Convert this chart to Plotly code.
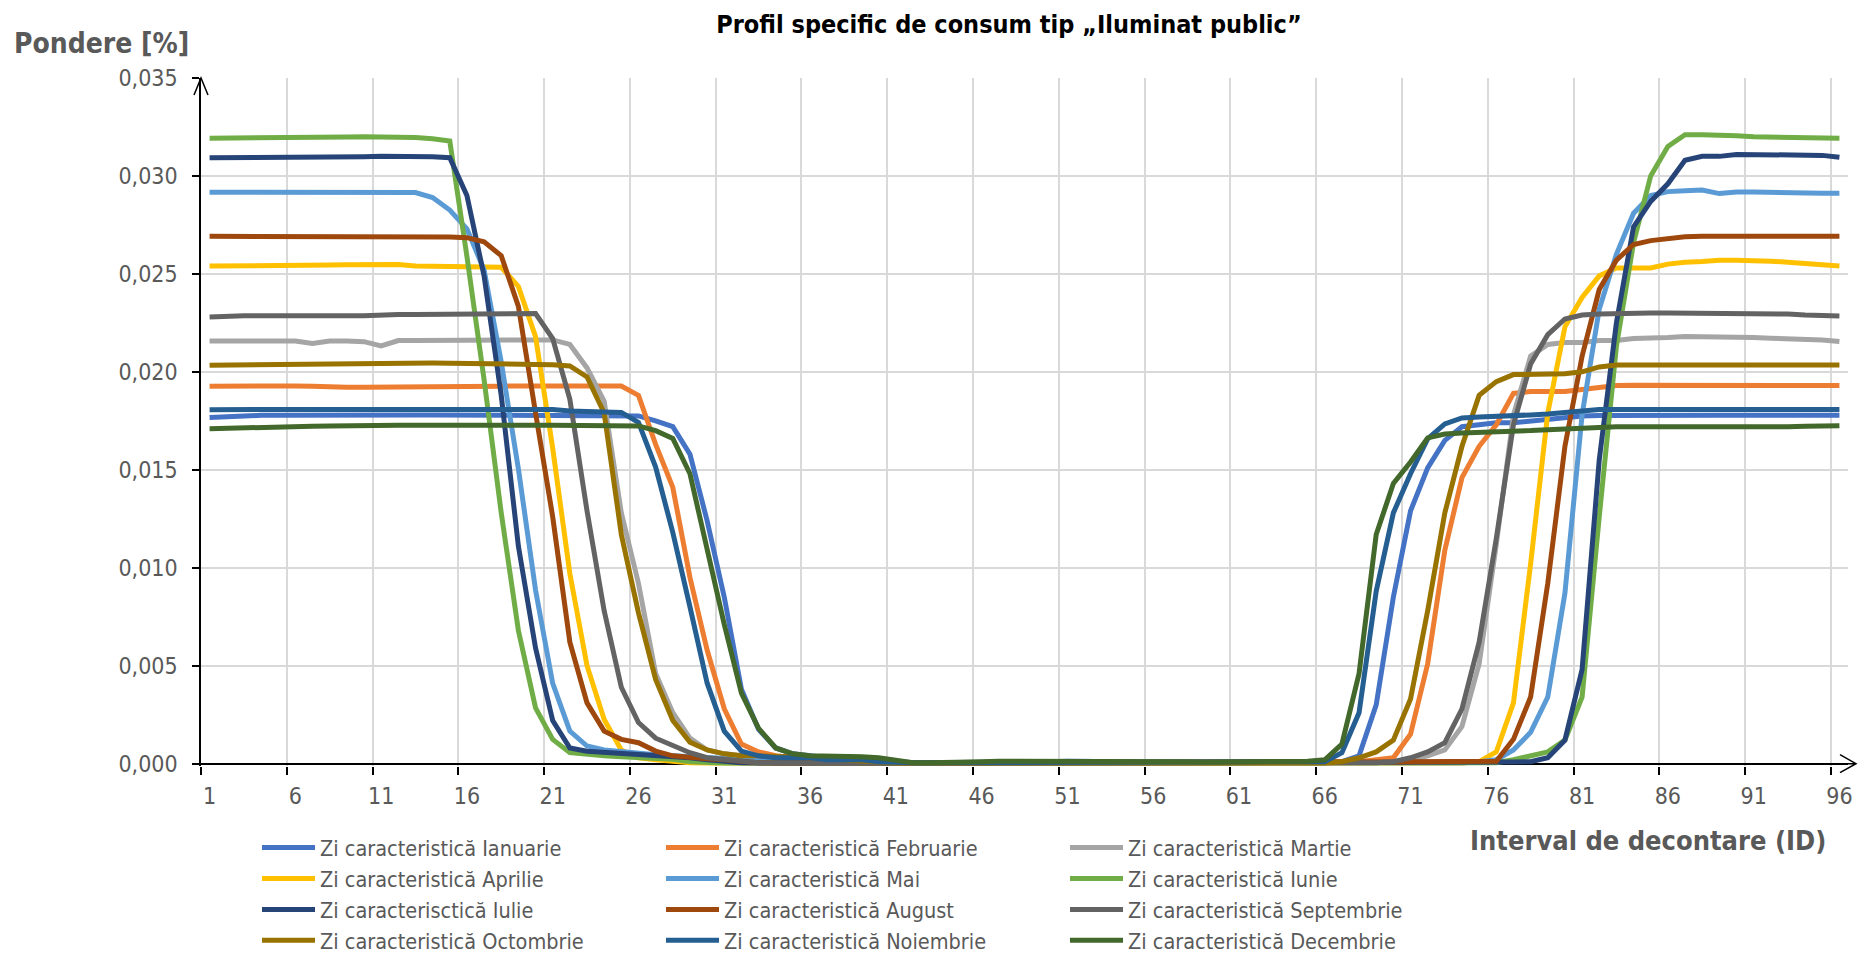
import plotly.graph_objects as go

# ---------------- data ----------------
intervale = list(range(1, 97))
x_tick_vals = [1, 6, 11, 16, 21, 26, 31, 36, 41, 46, 51, 56, 61, 66, 71, 76, 81, 86, 91, 96]
x_tick_labels = ["1", "6", "11", "16", "21", "26", "31", "36", "41", "46", "51", "56", "61", "66", "71", "76", "81", "86", "91", "96"]
y_tick_vals = [0.0, 0.005, 0.010, 0.015, 0.020, 0.025, 0.030, 0.035]

ianuarie = [
    0.01767, 0.01772, 0.01775, 0.01778, 0.01778, 0.01779, 0.01779, 0.01779, 0.01779, 0.01779,
    0.01779, 0.01779, 0.01780, 0.01780, 0.01780, 0.01780, 0.01780, 0.01780, 0.01780, 0.01779,
    0.01779, 0.01778, 0.01778, 0.01778, 0.01778, 0.01775, 0.01750, 0.01720, 0.01580, 0.01240,
    0.00850, 0.00380, 0.00175, 0.00080, 0.00050, 0.00040, 0.00030, 0.00030, 0.00020, 0.00020,
    0.00010, 0.00005, 0.00005, 0.00005, 0.00005, 0.00008, 0.00008, 0.00010, 0.00010, 0.00010,
    0.00012, 0.00010, 0.00010, 0.00010, 0.00010, 0.00008, 0.00008, 0.00008, 0.00008, 0.00008,
    0.00008, 0.00008, 0.00008, 0.00008, 0.00005, 0.00005, 0.00010, 0.00040, 0.00300, 0.00850,
    0.01290, 0.01510, 0.01650, 0.01720, 0.01730, 0.01740, 0.01740, 0.01750, 0.01760, 0.01770,
    0.01775, 0.01777, 0.01778, 0.01778, 0.01778, 0.01778, 0.01778, 0.01778, 0.01778, 0.01778,
    0.01778, 0.01778, 0.01778, 0.01778, 0.01778, 0.01778,
]
februarie = [
    0.01927, 0.01928, 0.01928, 0.01928, 0.01928, 0.01928, 0.01926, 0.01922, 0.01921, 0.01921,
    0.01921, 0.01921, 0.01921, 0.01921, 0.01922, 0.01924, 0.01925, 0.01927, 0.01928, 0.01928,
    0.01928, 0.01928, 0.01926, 0.01929, 0.01928, 0.01880, 0.01630, 0.01410, 0.00950, 0.00580,
    0.00280, 0.00100, 0.00060, 0.00040, 0.00030, 0.00030, 0.00020, 0.00010, 0.00005, 0.00005,
    0.00005, 0.00005, 0.00005, 0.00005, 0.00005, 0.00005, 0.00005, 0.00008, 0.00008, 0.00008,
    0.00010, 0.00008, 0.00008, 0.00008, 0.00008, 0.00008, 0.00005, 0.00005, 0.00005, 0.00005,
    0.00005, 0.00005, 0.00005, 0.00005, 0.00005, 0.00005, 0.00005, 0.00010, 0.00020, 0.00030,
    0.00150, 0.00510, 0.01090, 0.01460, 0.01620, 0.01730, 0.01890, 0.01900, 0.01900, 0.01900,
    0.01910, 0.01920, 0.01930, 0.01932, 0.01932, 0.01932, 0.01930, 0.01930, 0.01930, 0.01930,
    0.01930, 0.01930, 0.01930, 0.01930, 0.01930, 0.01930,
]
martie = [
    0.02158, 0.02158, 0.02158, 0.02158, 0.02158, 0.02157, 0.02145, 0.02157, 0.02157, 0.02154,
    0.02132, 0.02160, 0.02160, 0.02160, 0.02158, 0.02158, 0.02158, 0.02157, 0.02160, 0.02163,
    0.02163, 0.02140, 0.02020, 0.01850, 0.01280, 0.00920, 0.00460, 0.00260, 0.00130, 0.00070,
    0.00050, 0.00040, 0.00030, 0.00020, 0.00010, 0.00010, 0.00005, 0.00005, 0.00005, 0.00005,
    0.00005, 0.00003, 0.00003, 0.00003, 0.00003, 0.00003, 0.00003, 0.00003, 0.00003, 0.00003,
    0.00003, 0.00003, 0.00003, 0.00003, 0.00003, 0.00003, 0.00003, 0.00003, 0.00003, 0.00003,
    0.00003, 0.00003, 0.00003, 0.00003, 0.00003, 0.00003, 0.00003, 0.00003, 0.00005, 0.00010,
    0.00020, 0.00040, 0.00070, 0.00190, 0.00510, 0.01120, 0.01780, 0.02080, 0.02140, 0.02150,
    0.02150, 0.02160, 0.02160, 0.02170, 0.02170, 0.02175, 0.02180, 0.02180, 0.02178, 0.02180,
    0.02175, 0.02172, 0.02170, 0.02168, 0.02162, 0.02155,
]
aprilie = [
    0.02540, 0.02540, 0.02540, 0.02543, 0.02545, 0.02545, 0.02545, 0.02545, 0.02547, 0.02548,
    0.02550, 0.02548, 0.02540, 0.02540, 0.02540, 0.02538, 0.02536, 0.02534, 0.02436, 0.02180,
    0.01610, 0.00970, 0.00500, 0.00225, 0.00070, 0.00030, 0.00020, 0.00010, 0.00005, 0.00003,
    0.00003, 0.00003, 0.00003, 0.00003, 0.00003, 0.00003, 0.00003, 0.00003, 0.00003, 0.00003,
    0.00003, 0.00003, 0.00003, 0.00003, 0.00003, 0.00003, 0.00003, 0.00003, 0.00003, 0.00003,
    0.00003, 0.00003, 0.00003, 0.00003, 0.00003, 0.00003, 0.00003, 0.00003, 0.00003, 0.00003,
    0.00003, 0.00003, 0.00003, 0.00003, 0.00003, 0.00003, 0.00003, 0.00003, 0.00003, 0.00003,
    0.00003, 0.00003, 0.00003, 0.00003, 0.00010, 0.00060, 0.00310, 0.01020, 0.01790, 0.02230,
    0.02380, 0.02490, 0.02530, 0.02530, 0.02530, 0.02550, 0.02560, 0.02563, 0.02570, 0.02570,
    0.02570, 0.02565, 0.02560, 0.02555, 0.02550, 0.02540,
]
mai = [
    0.02917, 0.02917, 0.02917, 0.02918, 0.02920, 0.02920, 0.02920, 0.02920, 0.02920, 0.02919,
    0.02917, 0.02915, 0.02915, 0.02890, 0.02826, 0.02730, 0.02520, 0.02050, 0.01505, 0.00886,
    0.00410, 0.00166, 0.00090, 0.00070, 0.00060, 0.00050, 0.00045, 0.00040, 0.00035, 0.00030,
    0.00025, 0.00020, 0.00015, 0.00010, 0.00005, 0.00003, 0.00003, 0.00003, 0.00003, 0.00003,
    0.00003, 0.00003, 0.00003, 0.00003, 0.00003, 0.00003, 0.00003, 0.00003, 0.00003, 0.00003,
    0.00003, 0.00003, 0.00003, 0.00003, 0.00003, 0.00003, 0.00003, 0.00003, 0.00003, 0.00003,
    0.00003, 0.00003, 0.00003, 0.00003, 0.00003, 0.00003, 0.00003, 0.00003, 0.00003, 0.00003,
    0.00003, 0.00003, 0.00003, 0.00005, 0.00010, 0.00020, 0.00070, 0.00160, 0.00340, 0.00870,
    0.01780, 0.02320, 0.02600, 0.02810, 0.02900, 0.02920, 0.02925, 0.02928, 0.02910, 0.02918,
    0.02918, 0.02915, 0.02915, 0.02912, 0.02912, 0.02912,
]
iunie = [
    0.03193, 0.03193, 0.03194, 0.03196, 0.03198, 0.03198, 0.03198, 0.03199, 0.03199, 0.03200,
    0.03200, 0.03198, 0.03196, 0.03190, 0.03178, 0.02590, 0.01960, 0.01280, 0.00680, 0.00285,
    0.00124, 0.00056, 0.00045, 0.00040, 0.00035, 0.00030, 0.00028, 0.00022, 0.00010, 0.00005,
    0.00003, 0.00003, 0.00003, 0.00003, 0.00003, 0.00003, 0.00003, 0.00003, 0.00003, 0.00003,
    0.00003, 0.00003, 0.00003, 0.00003, 0.00003, 0.00003, 0.00003, 0.00003, 0.00003, 0.00003,
    0.00003, 0.00003, 0.00003, 0.00003, 0.00003, 0.00003, 0.00003, 0.00003, 0.00003, 0.00003,
    0.00003, 0.00003, 0.00003, 0.00003, 0.00003, 0.00003, 0.00003, 0.00003, 0.00003, 0.00003,
    0.00003, 0.00003, 0.00003, 0.00003, 0.00003, 0.00005, 0.00020, 0.00040, 0.00060, 0.00120,
    0.00340, 0.01260, 0.02130, 0.02660, 0.03000, 0.03150, 0.03210, 0.03210, 0.03210, 0.03205,
    0.03200, 0.03198, 0.03198, 0.03198, 0.03195, 0.03193,
]
iulie = [
    0.03093, 0.03093, 0.03093, 0.03093, 0.03093, 0.03093, 0.03093, 0.03093, 0.03096, 0.03098,
    0.03100, 0.03100, 0.03100, 0.03098, 0.03093, 0.02900, 0.02490, 0.01880, 0.01110, 0.00590,
    0.00220, 0.00080, 0.00063, 0.00058, 0.00055, 0.00050, 0.00045, 0.00040, 0.00030, 0.00020,
    0.00012, 0.00005, 0.00003, 0.00003, 0.00003, 0.00003, 0.00003, 0.00003, 0.00003, 0.00003,
    0.00003, 0.00003, 0.00003, 0.00003, 0.00003, 0.00003, 0.00003, 0.00003, 0.00003, 0.00003,
    0.00003, 0.00003, 0.00003, 0.00003, 0.00003, 0.00003, 0.00003, 0.00003, 0.00003, 0.00003,
    0.00003, 0.00003, 0.00003, 0.00003, 0.00003, 0.00003, 0.00003, 0.00003, 0.00003, 0.00003,
    0.00003, 0.00003, 0.00003, 0.00003, 0.00003, 0.00005, 0.00008, 0.00010, 0.00030, 0.00120,
    0.00480, 0.01550, 0.02250, 0.02740, 0.02870, 0.02960, 0.03080, 0.03100, 0.03100, 0.03110,
    0.03110, 0.03110, 0.03110, 0.03110, 0.03105, 0.03095,
]
august = [
    0.02692, 0.02692, 0.02692, 0.02692, 0.02692, 0.02692, 0.02692, 0.02692, 0.02692, 0.02692,
    0.02692, 0.02692, 0.02692, 0.02690, 0.02688, 0.02685, 0.02664, 0.02593, 0.02334, 0.01791,
    0.01260, 0.00620, 0.00310, 0.00166, 0.00124, 0.00107, 0.00064, 0.00040, 0.00030, 0.00025,
    0.00020, 0.00010, 0.00005, 0.00003, 0.00003, 0.00003, 0.00003, 0.00003, 0.00003, 0.00003,
    0.00003, 0.00003, 0.00003, 0.00003, 0.00003, 0.00003, 0.00003, 0.00003, 0.00003, 0.00003,
    0.00003, 0.00003, 0.00003, 0.00003, 0.00003, 0.00003, 0.00003, 0.00003, 0.00003, 0.00003,
    0.00003, 0.00003, 0.00003, 0.00003, 0.00003, 0.00003, 0.00003, 0.00003, 0.00005, 0.00008,
    0.00010, 0.00010, 0.00010, 0.00010, 0.00010, 0.00012, 0.00124, 0.00340, 0.00920, 0.01620,
    0.02080, 0.02420, 0.02570, 0.02650, 0.02670, 0.02680, 0.02690, 0.02692, 0.02692, 0.02692,
    0.02692, 0.02692, 0.02692, 0.02692, 0.02692, 0.02692,
]
septembrie = [
    0.02280, 0.02285, 0.02286, 0.02286, 0.02285, 0.02284, 0.02283, 0.02284, 0.02287, 0.02287,
    0.02292, 0.02293, 0.02293, 0.02293, 0.02295, 0.02296, 0.02297, 0.02298, 0.02298, 0.02298,
    0.02170, 0.01860, 0.01290, 0.00780, 0.00390, 0.00210, 0.00130, 0.00090, 0.00056, 0.00030,
    0.00020, 0.00010, 0.00005, 0.00003, 0.00003, 0.00003, 0.00003, 0.00003, 0.00003, 0.00003,
    0.00003, 0.00003, 0.00003, 0.00003, 0.00003, 0.00003, 0.00003, 0.00003, 0.00003, 0.00003,
    0.00003, 0.00003, 0.00003, 0.00003, 0.00003, 0.00003, 0.00003, 0.00003, 0.00003, 0.00003,
    0.00003, 0.00003, 0.00003, 0.00003, 0.00003, 0.00003, 0.00003, 0.00003, 0.00005, 0.00010,
    0.00030, 0.00060, 0.00107, 0.00280, 0.00620, 0.01150, 0.01730, 0.02040, 0.02190, 0.02270,
    0.02290, 0.02295, 0.02298, 0.02300, 0.02300, 0.02300, 0.02300, 0.02300, 0.02300, 0.02300,
    0.02300, 0.02298, 0.02295, 0.02290, 0.02288, 0.02285,
]
octombrie = [
    0.02034, 0.02035, 0.02036, 0.02037, 0.02038, 0.02040, 0.02042, 0.02045, 0.02046, 0.02046,
    0.02046, 0.02046, 0.02045, 0.02045, 0.02044, 0.02044, 0.02043, 0.02042, 0.02040, 0.02038,
    0.02036, 0.02030, 0.01974, 0.01790, 0.01170, 0.00770, 0.00430, 0.00220, 0.00110, 0.00070,
    0.00050, 0.00040, 0.00040, 0.00040, 0.00035, 0.00030, 0.00025, 0.00020, 0.00010, 0.00005,
    0.00003, 0.00003, 0.00003, 0.00003, 0.00003, 0.00003, 0.00003, 0.00003, 0.00003, 0.00003,
    0.00003, 0.00003, 0.00003, 0.00003, 0.00003, 0.00003, 0.00003, 0.00003, 0.00003, 0.00003,
    0.00003, 0.00003, 0.00003, 0.00003, 0.00003, 0.00003, 0.00010, 0.00030, 0.00060, 0.00120,
    0.00330, 0.00780, 0.01280, 0.01620, 0.01880, 0.01950, 0.01986, 0.01986, 0.01990, 0.01990,
    0.02000, 0.02025, 0.02035, 0.02035, 0.02035, 0.02035, 0.02035, 0.02036, 0.02036, 0.02036,
    0.02037, 0.02038, 0.02038, 0.02037, 0.02037, 0.02035,
]
noiembrie = [
    0.01807, 0.01808, 0.01808, 0.01808, 0.01808, 0.01808, 0.01808, 0.01808, 0.01808, 0.01808,
    0.01808, 0.01808, 0.01808, 0.01808, 0.01808, 0.01808, 0.01808, 0.01808, 0.01808, 0.01808,
    0.01808, 0.01800, 0.01795, 0.01795, 0.01793, 0.01742, 0.01514, 0.01180, 0.00800, 0.00412,
    0.00166, 0.00064, 0.00040, 0.00030, 0.00030, 0.00030, 0.00020, 0.00020, 0.00020, 0.00010,
    0.00005, 0.00005, 0.00005, 0.00005, 0.00005, 0.00005, 0.00008, 0.00008, 0.00008, 0.00010,
    0.00010, 0.00008, 0.00008, 0.00008, 0.00008, 0.00008, 0.00005, 0.00005, 0.00005, 0.00005,
    0.00005, 0.00005, 0.00005, 0.00005, 0.00005, 0.00010, 0.00056, 0.00260, 0.00880, 0.01280,
    0.01480, 0.01658, 0.01734, 0.01765, 0.01770, 0.01772, 0.01776, 0.01780, 0.01785, 0.01793,
    0.01805, 0.01808, 0.01808, 0.01808, 0.01808, 0.01808, 0.01808, 0.01808, 0.01808, 0.01808,
    0.01808, 0.01808, 0.01808, 0.01808, 0.01808, 0.01808,
]
decembrie = [
    0.01710, 0.01713, 0.01715, 0.01716, 0.01717, 0.01720, 0.01722, 0.01724, 0.01726, 0.01726,
    0.01724, 0.01727, 0.01727, 0.01728, 0.01729, 0.01730, 0.01729, 0.01728, 0.01728, 0.01728,
    0.01728, 0.01727, 0.01727, 0.01726, 0.01724, 0.01724, 0.01700, 0.01660, 0.01480, 0.01100,
    0.00710, 0.00360, 0.00180, 0.00080, 0.00050, 0.00040, 0.00040, 0.00040, 0.00035, 0.00030,
    0.00015, 0.00005, 0.00005, 0.00005, 0.00008, 0.00010, 0.00012, 0.00012, 0.00012, 0.00015,
    0.00015, 0.00012, 0.00012, 0.00015, 0.00012, 0.00010, 0.00010, 0.00010, 0.00008, 0.00008,
    0.00008, 0.00008, 0.00010, 0.00010, 0.00012, 0.00020, 0.00100, 0.00460, 0.01170, 0.01430,
    0.01540, 0.01663, 0.01683, 0.01688, 0.01690, 0.01692, 0.01695, 0.01700, 0.01705, 0.01710,
    0.01715, 0.01718, 0.01720, 0.01720, 0.01720, 0.01720, 0.01718, 0.01717, 0.01716, 0.01715,
    0.01717, 0.01720, 0.01720, 0.01722, 0.01724, 0.01725,
]

series_names = [
    "Zi caracteristică Ianuarie", "Zi caracteristică Februarie", "Zi caracteristică Martie",
    "Zi caracteristică Aprilie", "Zi caracteristică Mai", "Zi caracteristică Iunie",
    "Zi caracterisctică Iulie", "Zi caracteristică August", "Zi caracteristică Septembrie",
    "Zi caracteristică Octombrie", "Zi caracteristică Noiembrie", "Zi caracteristică Decembrie",
]
series_values = [ianuarie, februarie, martie, aprilie, mai, iunie,
                 iulie, august, septembrie, octombrie, noiembrie, decembrie]
series_colors = ["#4472C4", "#ED7D31", "#A5A5A5", "#FFC000", "#5B9BD5", "#70AD47",
                 "#264478", "#9E480E", "#636363", "#997300", "#255E91", "#43682B"]

# ---------------- figure ----------------
FONT = "DejaVu Sans Condensed, DejaVu Sans, Liberation Sans Narrow, sans-serif"
GRAY = "#595959"
Y_MIN, Y_MAX = -0.00012, 0.035

# the page puts the figure 8 px in from the top-left corner of the window
OFF = 8
FIG_W, FIG_H = 1868 - OFF, 956 - OFF
# plot area wanted on screen (window pixels)
S_L, S_R, S_T, S_B = 201, 1848, 78, 766
PLOT_L, PLOT_R, PLOT_T, PLOT_B = S_L - OFF, S_R - OFF, S_T - OFF, S_B - OFF
PLOT_W, PLOT_H = PLOT_R - PLOT_L, PLOT_B - PLOT_T


def px_x(screen_px):
    return (screen_px - OFF - PLOT_L) / PLOT_W


def px_y(screen_px):
    return (PLOT_B - (screen_px - OFF)) / PLOT_H


fig = go.Figure()
legend_ids = ["legend", "legend2", "legend3"]
for k, (name, vals, col) in enumerate(zip(series_names, series_values, series_colors)):
    fig.add_trace(go.Scatter(
        x=intervale, y=vals, name=name, mode="lines",
        line=dict(color=col, width=5),
        legend=legend_ids[k % 3],
        hoverinfo="x+y+name",
    ))

leg_common = dict(orientation="v", xanchor="left", yanchor="top",
                  font=dict(family=FONT, size=21.5, color=GRAY),
                  bgcolor="rgba(0,0,0,0)", borderwidth=0, tracegroupgap=0,
                  itemwidth=53)

zero_frac = (0 - Y_MIN) / (Y_MAX - Y_MIN)
LEG_TOP = 827

fig.update_layout(
    width=FIG_W, height=FIG_H,
    margin=dict(l=PLOT_L, r=FIG_W - PLOT_R, t=PLOT_T, b=FIG_H - PLOT_B, autoexpand=False),
    paper_bgcolor="white", plot_bgcolor="white",
    separators=", ",
    font=dict(family=FONT, color=GRAY),
    showlegend=True,
    title=dict(text="Profil specific de consum tip „Iluminat public”",
               x=(1009 - OFF) / FIG_W, xanchor="center", y=1 - (24 - OFF) / FIG_H, yanchor="middle",
               pad=dict(t=0, b=0, l=0, r=0),
               font=dict(family=FONT, size=25, color="black", weight="bold")),
    xaxis=dict(
        range=[0.5, 96.5], tickmode="array", tickvals=x_tick_vals, ticktext=x_tick_labels,
        ticks="", showgrid=False, showline=False, zeroline=False,
        tickfont=dict(family=FONT, size=23, color=GRAY), ticklabelstandoff=14,
        minor=dict(tick0=0.5, dtick=5, ticks="outside", ticklen=8, tickwidth=1.5,
                   tickcolor="black", showgrid=True, gridcolor="#D9D9D9", gridwidth=1.6),
    ),
    yaxis=dict(
        range=[Y_MIN, Y_MAX], tickmode="array", tickvals=y_tick_vals, tickformat=".3f",
        ticks="outside", ticklen=7, tickwidth=1.5, tickcolor="black",
        showline=True, linecolor="black", linewidth=1.5,
        showgrid=True, gridcolor="#D9D9D9", gridwidth=1.6,
        zeroline=True, zerolinecolor="black", zerolinewidth=1.5,
        tickfont=dict(family=FONT, size=23, color=GRAY), ticklabelstandoff=10,
    ),
    legend=dict(x=px_x(257), y=px_y(LEG_TOP), **leg_common),
    legend2=dict(x=px_x(661), y=px_y(LEG_TOP), **leg_common),
    legend3=dict(x=px_x(1065), y=px_y(LEG_TOP), **leg_common),
    annotations=[
        dict(text="Pondere [%]", xref="paper", yref="paper",
             x=px_x(12), y=px_y(44), xanchor="left", yanchor="middle",
             showarrow=False, font=dict(family=FONT, size=28, color=GRAY, weight="bold")),
        dict(text="Interval de decontare (ID)", xref="paper", yref="paper",
             x=px_x(1828), y=px_y(840), xanchor="right", yanchor="middle",
             showarrow=False, font=dict(family=FONT, size=27, color=GRAY, weight="bold")),
    ],
    shapes=[
        # arrow head on top of the vertical axis
        dict(type="path", xref="paper", yref="paper", xsizemode="pixel", ysizemode="pixel",
             xanchor=0, yanchor=1, path="M -7 -17 L 0 0 L 7 -17",
             line=dict(color="black", width=1.5)),
        # arrow on the right end of the horizontal axis
        dict(type="path", xref="paper", yref="paper", xsizemode="pixel", ysizemode="pixel",
             xanchor=1, yanchor=zero_frac, path="M 0 0 L 8 0 M -8 9 L 8 0 L -8 -9",
             line=dict(color="black", width=1.5)),
    ],
)

fig.write_html("out.html")
